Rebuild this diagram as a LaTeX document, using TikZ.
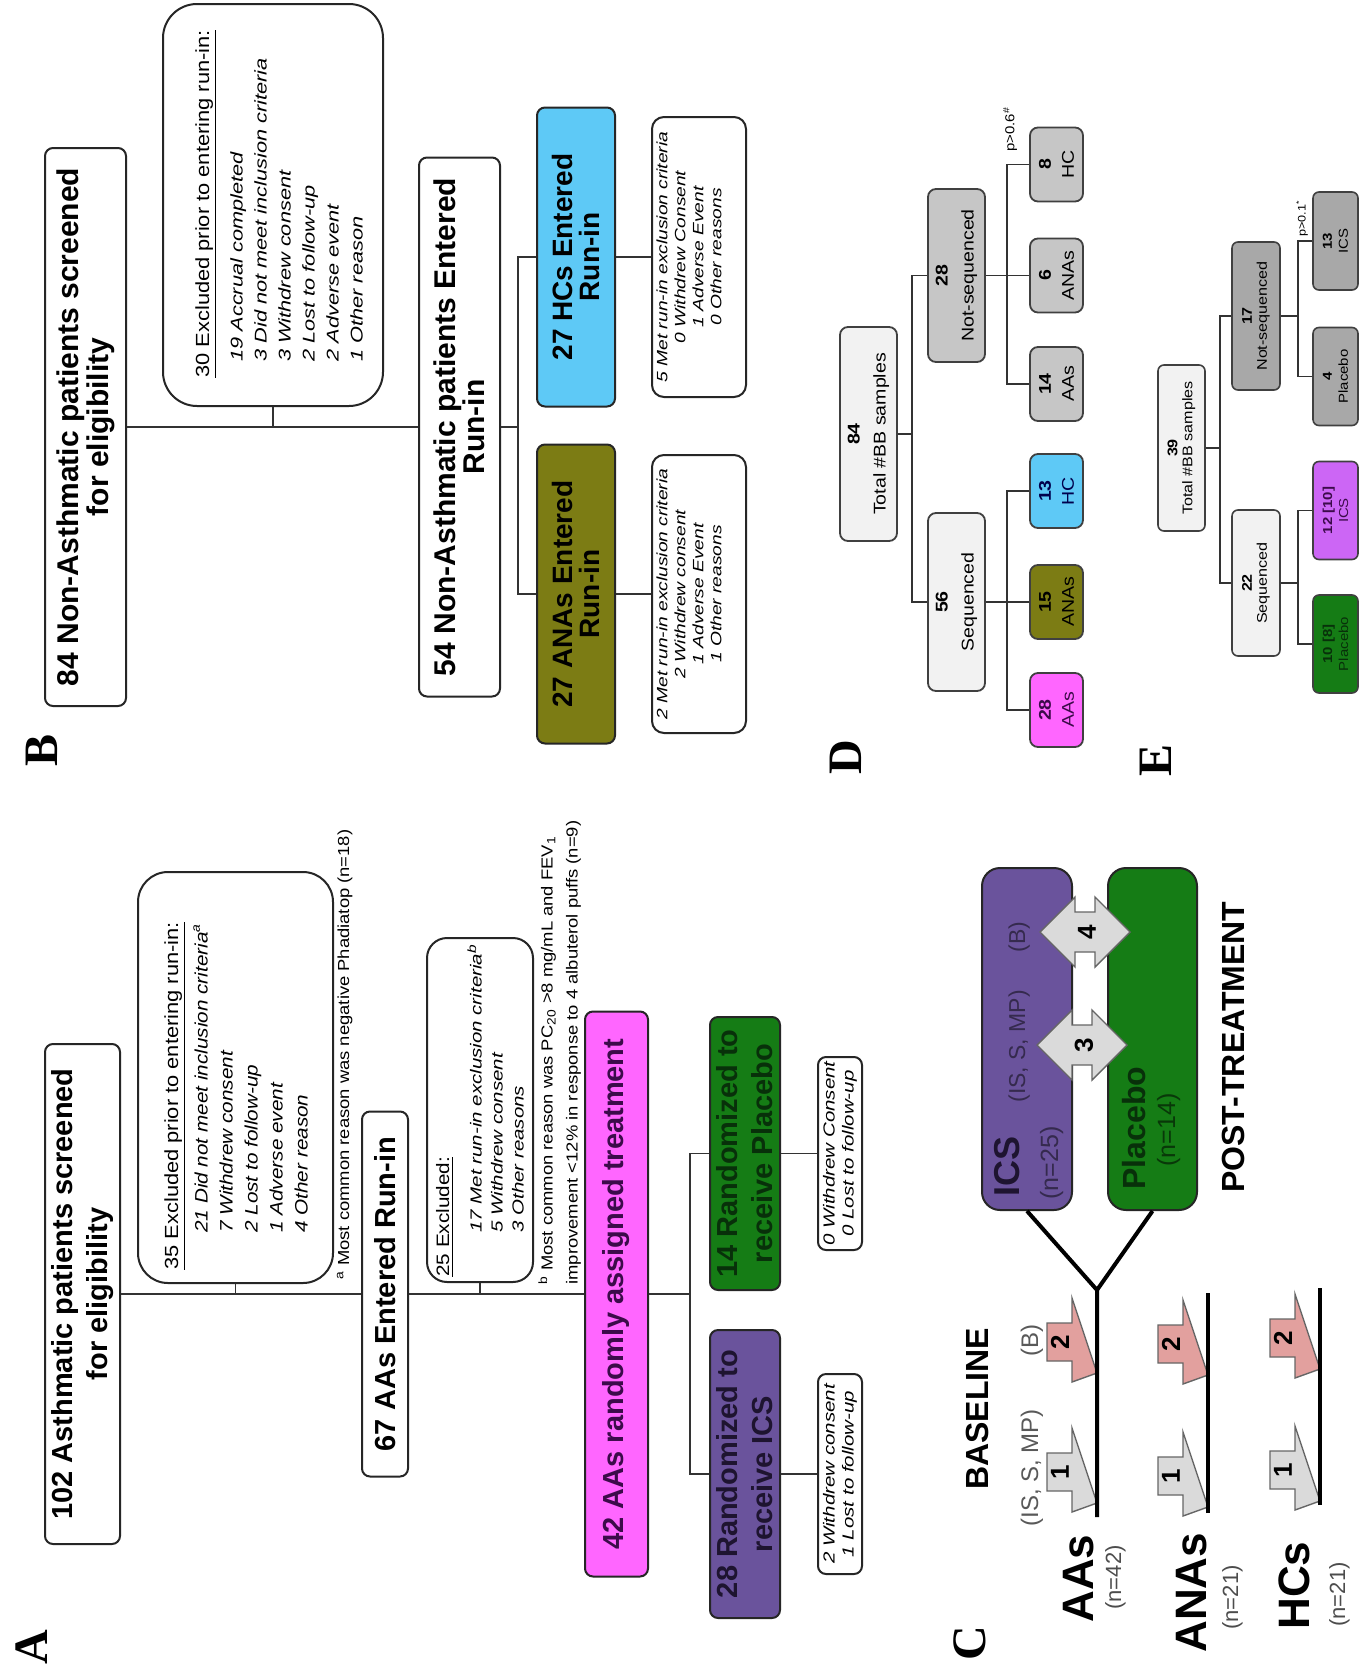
\documentclass[tikz,border=0pt]{standalone}
\usepackage{fontspec}
\setmainfont{Liberation Sans}
\newfontfamily\wA{Liberation Sans}[FakeStretch=1.15]
\newfontfamily\wB{Liberation Sans}[FakeStretch=1.28]
\newfontfamily\seriff{Liberation Serif}
\usetikzlibrary{calc}
\definecolor{mag}{HTML}{FF66FF}
\definecolor{magtxt}{HTML}{3C0B4A}
\definecolor{ics}{HTML}{6A539C}
\definecolor{icstxt}{HTML}{1E1430}
\definecolor{plc}{HTML}{157C15}
\definecolor{plctxt}{HTML}{08300A}
\definecolor{olv}{HTML}{7C7C14}
\definecolor{lblue}{HTML}{5EC9F6}
\definecolor{gry}{HTML}{C6C6C6}
\definecolor{dgry}{HTML}{A8A8A8}
\definecolor{lgry}{HTML}{F2F2F2}
\definecolor{vio}{HTML}{CC66F5}
\definecolor{arrg}{HTML}{DADADA}
\definecolor{arrp}{HTML}{E2A09E}
\newcommand{\myblockarrow}[5]{%
  \draw[fill=#3, draw=black!60, line width=0.7pt] (#1-50,#2+25) -- (#1-25,#2+25) -- (#1-25,#2) -- (#1,#2+75) -- (#1-25,#2+84) -- (#1-25,#2+63) -- (#1-50,#2+63) -- cycle;
  \node[txt, font=\bfseries\fontsize{13pt}{13pt}\selectfont] (#5) at (#1-37,#2+44) {#4};}
\newcommand{\mydblarrow}[4]{%
  \draw[fill=arrg, draw=black!60, line width=0.7pt] (#1-45,#2) -- (#1-10,#2-35) -- (#1-10,#2-20) -- (#1+10,#2-20) -- (#1+10,#2-35) -- (#1+45,#2) -- (#1+10,#2+35) -- (#1+10,#2+20) -- (#1-10,#2+20) -- (#1-10,#2+35) -- cycle;
  \node[txt, font=\bfseries\fontsize{13pt}{13pt}\selectfont] (#4) at (#1+2,#2) {#3};}
\begin{document}
\begin{tikzpicture}[x=0.5pt,y=-0.5pt,
  box/.style={draw=black!85, line width=1pt, rounded corners=4pt, rotate=90, inner sep=0pt, align=center},
  sz/.style 2 args={minimum width=#1*0.5pt, minimum height=#2*0.5pt},
  txt/.style={rotate=90, inner sep=0pt},
  con/.style={draw=black!80, line width=0.8pt},
  bigA/.style={font=\bfseries\fontsize{14.5pt}{17.5pt}\selectfont},
  lbl/.style={rotate=90, inner sep=0pt, font=\seriff\bfseries\fontsize{24pt}{24pt}\selectfont},
  dbox/.style={box, line width=0.9pt, draw=black!75, rounded corners=4pt, font=\wA\fontsize{8.5pt}{13pt}\selectfont},
  dcbox/.style={dbox, sz={74}{53}, font=\wA\fontsize{8.5pt}{11.5pt}\selectfont},
  ebox/.style={box, line width=0.8pt, draw=black!75, rounded corners=3pt, font=\wA\fontsize{7pt}{7.5pt}\selectfont},
  ecbox/.style={ebox, sz={98}{45}, font=\wA\fontsize{6.5pt}{8pt}\selectfont}
]
\fill[white] (0,0) rectangle (1361,1676);
\useasboundingbox (0,0) rectangle (1361,1676);

% ===================== Panel A =====================
\node[lbl] (lA) at (32,1647) {A};
\node[box, sz={500}{75}, bigA] (a1) at (82.5,1294) {102 Asthmatic patients screened\\for eligibility};
\node[box, sz={411}{195}, rounded corners=15pt] (ax1) at (235.5,1077.5) {};
\node[txt, anchor=base west, font=\wA\fontsize{9.5pt}{9.5pt}\selectfont] (ax1h) at (178,1270) {\underline{35 Excluded prior to entering run-in:}};
\node[txt, anchor=north west, align=left, font=\wA\itshape\fontsize{9pt}{12.5pt}\selectfont] (ax1l) at (193,1233) {21 Did not meet inclusion criteria\textsuperscript{a}\\7 Withdrew consent\\2 Lost to follow-up\\1 Adverse event\\4 Other reason};
\node[txt, anchor=base west, font=\wA\fontsize{8pt}{8pt}\selectfont] (fna) at (349,1280) {\textsuperscript{a} Most common reason was negative Phadiatop (n=18)};
\node[box, sz={365}{46}, bigA] (a2) at (385,1294) {67 AAs Entered Run-in};
\node[box, sz={344}{106}, rounded corners=10pt] (ax2) at (480,1110) {};
\node[txt, anchor=base west, font=\wA\fontsize{9pt}{9pt}\selectfont] (ax2h) at (449,1277) {\underline{25 Excluded:}};
\node[txt, anchor=north west, align=left, font=\wB\itshape\fontsize{8pt}{10.5pt}\selectfont] (ax2l) at (467,1233) {17 Met run-in exclusion criteria\textsuperscript{b}\\5 Withdrew consent\\3 Other reasons};
\node[txt, anchor=north west, align=left, font=\wA\fontsize{8pt}{12.5pt}\selectfont] (fnb) at (538,1285) {\textsuperscript{b} Most common reason was PC\textsubscript{20} >8 mg/mL and FEV\textsubscript{1}\\improvement <12\% in response to 4 albuterol puffs (n=9)};
\node[box, sz={565}{63}, bigA, fill=mag, text=magtxt] (a3) at (616.5,1294) {42 AAs randomly assigned treatment};
\node[box, sz={288}{70}, bigA, fill=ics, text=icstxt] (a4) at (745,1474) {28 Randomized to\\receive ICS};
\node[box, sz={273}{70}, bigA, fill=plc, text=plctxt] (a5) at (745,1153.5) {14 Randomized to\\receive Placebo};
\node[box, sz={200}{44}, font=\wB\itshape\fontsize{8pt}{9.5pt}\selectfont] (a6) at (840,1474) {2 Withdrew consent\\1 Lost to follow-up};
\node[box, sz={193}{44}, font=\wB\itshape\fontsize{8pt}{9.5pt}\selectfont] (a7) at (840,1153.5) {0 Withdrew Consent\\0 Lost to follow-up};
\coordinate (aj) at (690,1294);
\draw[con] (a1.south) -- (a2.north);
\draw[con] (ax1.west) -- (ax1.west |- a1.south);
\draw[con] (a2.south) -- (a3.north);
\draw[con] (ax2.west) -- (ax2.west |- a2.south);
\draw[con] (a3.south) -- (aj);
\draw[con] (a4.north) -| (aj);
\draw[con] (a5.north) -| (aj);
\draw[con] (a4.south) -- (a6.north);
\draw[con] (a5.south) -- (a7.north);

% ===================== Panel B =====================
\node[lbl] (lB) at (42,750) {B};
\node[box, sz={558}{81}, font=\bfseries\fontsize{15pt}{15pt}\selectfont] (b1) at (85.5,427) {84 Non-Asthmatic patients screened\\for eligibility};
\node[box, sz={402}{220}, rounded corners=17pt] (bx1) at (273,205) {};
\node[txt, anchor=base west, font=\wA\fontsize{9.5pt}{9.5pt}\selectfont] (bx1h) at (209,378) {\underline{30 Excluded prior to entering run-in:}};
\node[txt, anchor=north west, align=left, font=\wB\itshape\fontsize{8.5pt}{12pt}\selectfont] (bx1l) at (230,362) {19 Accrual completed\\3 Did not meet inclusion criteria\\3 Withdrew consent\\2 Lost to follow-up\\2 Adverse event\\1 Other reason};
\node[box, sz={539}{81}, font=\bfseries\fontsize{15pt}{14.5pt}\selectfont] (b2) at (459.5,427) {54 Non-Asthmatic patients Entered\\Run-in};
\node[box, sz={299}{78}, fill=olv, font=\bfseries\fontsize{14pt}{13.5pt}\selectfont] (b3) at (576,594) {27 ANAs Entered\\Run-in};
\node[box, sz={299}{78}, fill=lblue, font=\bfseries\fontsize{14pt}{13.5pt}\selectfont] (b4) at (576,257) {27 HCs Entered\\Run-in};
\node[box, sz={278}{94}, rounded corners=6pt] (b5) at (699,594) {};
\node[txt, anchor=north, align=center, font=\wB\itshape\fontsize{7.5pt}{9pt}\selectfont] (b5t) at (656,594) {2 Met run-in exclusion criteria\\2 Withdrew consent\\1 Adverse Event\\1 Other reasons};
\node[box, sz={280}{94}, rounded corners=6pt] (b6) at (699,257) {};
\node[txt, anchor=north, align=center, font=\wB\itshape\fontsize{7.5pt}{9pt}\selectfont] (b6t) at (656,257) {5 Met run-in exclusion criteria\\0 Withdrew Consent\\1 Adverse Event\\0 Other reasons};
\coordinate (bj) at (518,427);
\draw[con] (b1.south) -- (b2.north);
\draw[con] (bx1.west) -- (bx1.west |- b1.south);
\draw[con] (b2.south) -- (bj);
\draw[con] (b3.north) -| (bj);
\draw[con] (b4.north) -| (bj);
\draw[con] (b3.south) -- (b5.north);
\draw[con] (b4.south) -- (b6.north);

% ===================== Panel C =====================
\node[lbl] (lC) at (970,1643) {C};
\node[txt, anchor=base west, font=\bfseries\fontsize{16pt}{16pt}\selectfont] (cbase) at (988,1490) {BASELINE};
\node[txt, anchor=base west, font=\fontsize{12pt}{12pt}\selectfont, text=black!65] (cbase1) at (1038,1527) {(IS, S, MP)};
\node[txt, anchor=base west, font=\fontsize{12pt}{12pt}\selectfont, text=black!65] (cbase2) at (1038,1357) {(B)};
\node[txt, anchor=base west, font=\bfseries\fontsize{22pt}{22pt}\selectfont] (caa) at (1093,1623) {AAs};
\node[txt, anchor=base west, font=\fontsize{11pt}{11pt}\selectfont, text=black!70] (caan) at (1121,1610) {(n=42)};
\node[txt, anchor=base west, font=\bfseries\fontsize{22pt}{22pt}\selectfont] (cana) at (1206,1653) {ANAs};
\node[txt, anchor=base west, font=\fontsize{11pt}{11pt}\selectfont, text=black!70] (canan) at (1238,1630) {(n=21)};
\node[txt, anchor=base west, font=\bfseries\fontsize{22pt}{22pt}\selectfont] (chc) at (1309,1630) {HCs};
\node[txt, anchor=base west, font=\fontsize{11pt}{11pt}\selectfont, text=black!70] (chcn) at (1345,1627) {(n=21)};
\node[box, sz={342}{90}, fill=ics, rounded corners=9pt] (cics) at (1027,1039) {};
\node[box, sz={342}{89}, fill=plc, rounded corners=9pt] (cplc) at (1152.5,1039) {};
\node[txt, anchor=base west, font=\bfseries\fontsize{18pt}{18pt}\selectfont, text=icstxt] (cicst) at (1019,1197) {ICS};
\node[txt, anchor=base west, font=\fontsize{11.5pt}{11.5pt}\selectfont, text=black!50!ics] (cicsp) at (1025,1103) {(IS, S, MP)};
\node[txt, anchor=base west, font=\fontsize{11.5pt}{11.5pt}\selectfont, text=black!50!ics] (cicsb) at (1025,953) {(B)};
\node[txt, anchor=base west, font=\fontsize{12.5pt}{12.5pt}\selectfont, text=black!50!ics] (cicsn) at (1058,1200) {(n=25)};
\node[txt, anchor=base west, font=\bfseries\fontsize{16pt}{16pt}\selectfont, text=plctxt] (cplct) at (1145,1190) {Placebo};
\node[txt, anchor=base west, font=\fontsize{12.5pt}{12.5pt}\selectfont, text=black!55!plc] (cplcn) at (1175,1167) {(n=14)};
\mydblarrow{1082}{1045}{3}{c3}
\mydblarrow{1085}{932}{4}{c4}
\node[txt, anchor=base west, font=\bfseries\fontsize{16pt}{16pt}\selectfont] (cpost) at (1244,1193) {POST-TREATMENT};
\myblockarrow{1097}{1428}{arrg}{1}{ca1}
\myblockarrow{1097}{1298}{arrp}{2}{ca2}
\myblockarrow{1208}{1432}{arrg}{1}{cn1}
\myblockarrow{1208}{1300}{arrp}{2}{cn2}
\myblockarrow{1320}{1426}{arrg}{1}{ch1}
\myblockarrow{1320}{1294}{arrp}{2}{ch2}
\coordinate (aaS) at (1097,1517);
\coordinate (aaJ) at (1097,1290);
\coordinate (anS) at (1208,1513);
\coordinate (anE) at (1208,1293);
\coordinate (hcS) at (1320,1505);
\coordinate (hcE) at (1320,1288);
\draw[line width=2pt] (aaS) -- (aaJ) -- (cics.west);
\draw[line width=2pt] (aaJ) -- (cplc.west);
\draw[line width=2pt] (anS) -- (anE);
\draw[line width=2pt] (hcS) -- (hcE);

% ===================== Panel D =====================
\node[lbl] (lD) at (846,757) {D};
\node[dbox, sz={214}{57}, fill=lgry] (d0) at (868.5,434) {\textbf{84}\\Total \#BB samples};
\node[dbox, sz={178}{57}, fill=lgry] (d1) at (956.5,602) {\textbf{56}\\Sequenced};
\node[dbox, sz={173}{57}, fill=gry] (d2) at (956.5,275.5) {\textbf{28}\\Not-sequenced};
\node[dcbox, fill=mag, text=magtxt] (d3) at (1056.5,710) {\textbf{28}\\AAs};
\node[dcbox, fill=olv] (d4) at (1056.5,602) {\textbf{15}\\ANAs};
\node[dcbox, fill=lblue, text=blue!30!black] (d5) at (1056.5,491) {\textbf{13}\\HC};
\node[dcbox, fill=gry] (d6) at (1056.5,384) {\textbf{14}\\AAs};
\node[dcbox, fill=gry] (d7) at (1056.5,275.5) {\textbf{6}\\ANAs};
\node[dcbox, fill=gry] (d8) at (1056.5,164.5) {\textbf{8}\\HC};
\node[txt, anchor=west, font=\wA\fontsize{6.5pt}{6.5pt}\selectfont] (dp) at (1010,152) {p>0.6\textsuperscript{\#}};
\coordinate (dj0) at (912,434);
\coordinate (dj1) at (1007,602);
\coordinate (dj2) at (1007,275.5);
\draw[con] (d0.south) -- (dj0);
\draw[con] (d1.north) -| (dj0);
\draw[con] (d2.north) -| (dj0);
\draw[con] (d1.south) -- (dj1);
\draw[con] (d3.north) -| (dj1);
\draw[con] (d4.north) -| (dj1);
\draw[con] (d5.north) -| (dj1);
\draw[con] (d2.south) -- (dj2);
\draw[con] (d6.north) -| (dj2);
\draw[con] (d7.north) -| (dj2);
\draw[con] (d8.north) -| (dj2);

% ===================== Panel E =====================
\node[lbl] (lE) at (1156,760) {E};
\node[ebox, sz={166}{47}, fill=lgry] (e0) at (1181.5,448) {\textbf{39}\\Total \#BB samples};
\node[ebox, sz={146}{48}, fill=lgry] (e1) at (1256,583) {\textbf{22}\\Sequenced};
\node[ebox, sz={148}{48}, fill=dgry] (e2) at (1256,316) {\textbf{17}\\Not-sequenced};
\node[ecbox, fill=plc, text=plctxt] (e3) at (1335.5,644) {\textbf{10 [8]}\\Placebo};
\node[ecbox, fill=vio, text=magtxt] (e4) at (1335.5,510.5) {\textbf{12 [10]}\\ICS};
\node[ecbox, fill=dgry] (e5) at (1335.5,376.5) {\textbf{4}\\Placebo};
\node[ecbox, fill=dgry] (e6) at (1335.5,241) {\textbf{13}\\ICS};
\node[txt, anchor=west, font=\wA\fontsize{5.5pt}{5.5pt}\selectfont] (ep) at (1302,237) {p>0.1\textsuperscript{*}};
\coordinate (ej0) at (1220,448);
\coordinate (ej1) at (1298,583);
\coordinate (ej2) at (1298,316);
\draw[con] (e0.south) -- (ej0);
\draw[con] (e1.north) -| (ej0);
\draw[con] (e2.north) -| (ej0);
\draw[con] (e1.south) -- (ej1);
\draw[con] (e3.north) -| (ej1);
\draw[con] (e4.north) -| (ej1);
\draw[con] (e2.south) -- (ej2);
\draw[con] (e5.north) -| (ej2);
\draw[con] (e6.north) -| (ej2);
\end{tikzpicture}
\end{document}
